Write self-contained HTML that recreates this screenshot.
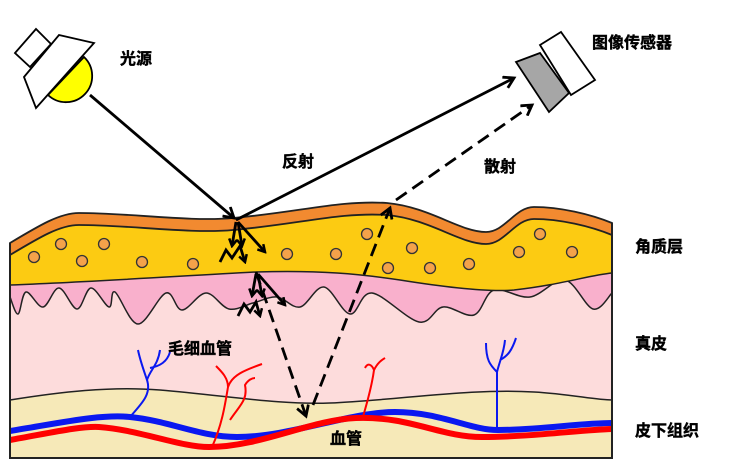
<!DOCTYPE html>
<html><head><meta charset="utf-8"><style>
html,body{margin:0;padding:0;background:#fff;}
svg{display:block;}
text{font-family:"Liberation Sans","Noto Sans CJK SC",sans-serif;font-weight:bold;font-size:16px;fill:#000;stroke:#000;stroke-width:0.4px;}
</style></head><body>
<svg width="753" height="469" viewBox="0 0 753 469" xmlns="http://www.w3.org/2000/svg">
<defs>
<marker id="ah" markerWidth="10" markerHeight="10" refX="8" refY="5" orient="auto" markerUnits="userSpaceOnUse">
<path d="M1,1 L8,5 L1,9" fill="none" stroke="#000" stroke-width="2.5"/>
</marker>
<marker id="ahs" markerWidth="14" markerHeight="14" refX="11" refY="7" orient="auto" markerUnits="userSpaceOnUse">
<path d="M1,1 L11,7 L1,13" fill="none" stroke="#000" stroke-width="2.8"/>
</marker>
</defs>
<rect x="10" y="200" width="602" height="258" fill="#f6e9b8"/>
<path d="M10,400 C60,392 110,386 160,390 C230,396 280,405 330,403 C400,400 470,388 534,392 C570,394 595,400 612,400 L612,200 L10,200 Z" fill="#fddcdc"/>
<path d="M10,400 C60,392 110,386 160,390 C230,396 280,405 330,403 C400,400 470,388 534,392 C570,394 595,400 612,400" fill="none" stroke="#222" stroke-width="1.5"/>
<path id="wave" d="M10,300 Q18,312 22,302 Q26,292 34.5,298.5 Q43,305 51,296.5 Q59,288 68,297.5 Q77,307 84,297.5 Q91,288 100,296.5 Q109,305 112,298.5 Q115,292 126.5,307 Q138,322 152,307.5 Q166,293 174,300.5 Q182,308 194,300.5 Q206,293 217.5,300 Q229,307 241,305 Q253,303 265,300 Q277,297 288.5,301 Q300,305 312,296 Q324,287 337,299.5 Q350,312 361,302.5 Q372,293 395.5,306.5 Q419,320 431,313.5 Q443,307 458.5,310 Q474,313 484,301.5 Q494,290 512,293.5 Q530,297 547.5,288.5 Q565,280 579,293.5 Q593,307 602.5,300 L612,293 L612,200 L10,200 Z" fill="#f9b0cc"/>
<path id="waveline" d="" fill="none" stroke="#222" stroke-width="1.5"/>
<path d="M10,285 C90,282 180,276 256,272 C320,270 360,274 400,280 C450,288 490,292 514,290 C560,285 590,275 612,273 L612,200 L10,200 Z" fill="#fccb12"/>
<path d="M10,285 C90,282 180,276 256,272 C320,270 360,274 400,280 C450,288 490,292 514,290 C560,285 590,275 612,273" fill="none" stroke="#222" stroke-width="1.5"/>
<path d="M6,243 L10,243 C40,225 60,213 79,213 C130,213 190,222 233,218 C300,212 340,200 387,203 C430,207 460,232 486,232 C505,232 515,207 534,207 C560,207 590,214 612,223 L616,223 L616,0 L6,0 Z" fill="#fff"/>
<path d="M10,243 C40,225 60,213 79,213 C130,213 190,222 233,218 C300,212 340,200 387,203 C430,207 460,232 486,232 C505,232 515,207 534,207 C560,207 590,214 612,223 L612,235 C590,226 560,219 534,219 C515,219 505,244 486,244 C460,244 430,219 387,215 C340,212 300,224 233,230 C190,234 130,225 79,225 C60,225 40,237 10,255 Z" fill="#f28a30" stroke="#222" stroke-width="1.8"/>
<g fill="#f4a24a" stroke="#333" stroke-width="1.3">
<circle cx="34" cy="257" r="5.5"/><circle cx="61" cy="244" r="5.5"/><circle cx="104" cy="244" r="5.5"/><circle cx="82" cy="261" r="5.5"/>
<circle cx="142" cy="262" r="5.5"/><circle cx="193" cy="264" r="5.5"/><circle cx="287" cy="254" r="5.5"/><circle cx="336" cy="254" r="5.5"/>
<circle cx="367" cy="234" r="5.5"/><circle cx="412" cy="248" r="5.5"/><circle cx="388" cy="268" r="5.5"/><circle cx="430" cy="268" r="5.5"/>
<circle cx="469" cy="264" r="5.5"/><circle cx="519" cy="252" r="5.5"/><circle cx="540" cy="234" r="5.5"/><circle cx="572" cy="252" r="5.5"/>
</g>
<path d="M10,431 C60,423 100,414 130,417 C170,421 200,437 237,437 C290,437 350,412 395,412 C440,412 470,430 498,430 C540,430 580,423 612,423" fill="none" stroke="#0a18f0" stroke-width="6"/>
<path d="M10,440 C50,433 80,426 99,427 C140,430 180,447 209,447 C260,447 310,420 356,418 C410,416 440,437 482,437 C530,437 580,430 612,429" fill="none" stroke="#f00" stroke-width="6"/>
<g fill="none" stroke-width="2">
<path d="M130,417 C140,405 152,395 147,380 C143,368 140,360 138,350" stroke="#0a18f0"/>
<path d="M147,380 C150,370 158,365 160,350" stroke="#0a18f0"/>
<path d="M150,368 C160,366 167,362 170,352" stroke="#0a18f0"/>
<path d="M212,447 C222,425 225,405 228,387 C228,378 222,372 216,366" stroke="#f00"/>
<path d="M228,387 C232,375 245,370 262,364" stroke="#f00"/>
<path d="M230,420 C240,405 248,400 245,385 C248,380 252,378 255,378" stroke="#f00"/>
<path d="M362,420 C368,400 372,385 374,370 C372,365 368,362 365,368" stroke="#f00"/>
<path d="M374,370 C378,362 382,360 385,358" stroke="#f00"/>
<path d="M497,430 L497,372 C490,365 486,360 486,343" stroke="#0a18f0"/>
<path d="M497,372 C500,360 504,352 505,340" stroke="#0a18f0"/>
<path d="M500,360 C508,356 512,350 516,338" stroke="#0a18f0"/>
</g>
<path d="M10,243 L10,458 L612,458 L612,223" fill="none" stroke="#222" stroke-width="2"/>
<polygon points="15,53 36,29 51,44 30,67" fill="#fff" stroke="#000" stroke-width="1.8"/>
<path d="M48,95 A24,24 0 0 0 84,57 Z" fill="#ffff00" stroke="#000" stroke-width="1.8"/>
<polygon points="24,77 59,35 94,43 36,108" fill="#fff" stroke="#000" stroke-width="1.8"/>
<polygon points="516,62 540,53 569,93 549,112" fill="#a6a6a6" stroke="#000" stroke-width="1.8"/>
<polygon points="540,45 561,32 595,80 571,95" fill="#fff" stroke="#000" stroke-width="1.8"/>
<line x1="90" y1="95" x2="234" y2="218" stroke="#000" stroke-width="2.8" marker-end="url(#ahs)"/>
<line x1="236" y1="220" x2="514" y2="78" stroke="#000" stroke-width="2.8" marker-end="url(#ahs)"/>
<g stroke="#000" stroke-width="2.8" stroke-dasharray="13,7" fill="none">
<line x1="256" y1="272" x2="306" y2="416" marker-end="url(#ahs)"/>
<line x1="313" y1="405" x2="390" y2="208" marker-end="url(#ahs)"/>
<line x1="396" y1="200" x2="532" y2="105" marker-end="url(#ahs)"/>
</g>
<g stroke="#000" stroke-width="2.8" fill="none">
<line x1="236" y1="222" x2="232" y2="246" marker-end="url(#ah)"/>
<line x1="238" y1="222" x2="242" y2="246" marker-end="url(#ah)"/>
<line x1="238" y1="222" x2="265" y2="252" marker-end="url(#ah)"/>
<path d="M220,262 L226,250 L232,258 L240,246 L245,262" marker-end="url(#ah)"/>
<line x1="256" y1="274" x2="252" y2="296" marker-end="url(#ah)"/>
<line x1="258" y1="274" x2="262" y2="296" marker-end="url(#ah)"/>
<line x1="258" y1="274" x2="285" y2="305" marker-end="url(#ah)"/>
<path d="M238,316 L244,304 L250,312 L256,302 L260,316" marker-end="url(#ah)"/>
</g>
<text x="120" y="64">光源</text>
<text x="592" y="48">图像传感器</text>
<text x="282" y="167">反射</text>
<text x="484" y="172">散射</text>
<text x="635" y="252">角质层</text>
<text x="635" y="349">真皮</text>
<text x="635" y="436">皮下组织</text>
<text x="168" y="354">毛细血管</text>
<text x="330" y="444">血管</text>
</svg>
<script>
(function(){
var p=[[10,297],[18,314],[26,292],[43,307],[59,288],[77,309],[91,288],[109,307],[115,292],[138,324],[166,293],[182,310],[206,293],[229,309],[253,303],[277,297],[300,307],[324,287],[350,314],[372,293],[419,322],[443,307],[474,315],[494,290],[530,297],[565,280],[593,309],[612,293]];
var d="M"+p[0][0]+","+p[0][1];
for(var i=0;i<p.length-1;i++){
var p0=p[i>0?i-1:0],p1=p[i],p2=p[i+1],p3=p[i+2<p.length?i+2:i+1];
var c1x=p1[0]+(p2[0]-p0[0])/6,c1y=p1[1]+(p2[1]-p0[1])/6;
var c2x=p2[0]-(p3[0]-p1[0])/6,c2y=p2[1]-(p3[1]-p1[1])/6;
d+=" C"+c1x.toFixed(1)+","+c1y.toFixed(1)+" "+c2x.toFixed(1)+","+c2y.toFixed(1)+" "+p2[0]+","+p2[1];
}
document.getElementById("waveline").setAttribute("d",d);
document.getElementById("wave").setAttribute("d",d+" L612,200 L10,200 Z");
})();
</script>
</body></html>
